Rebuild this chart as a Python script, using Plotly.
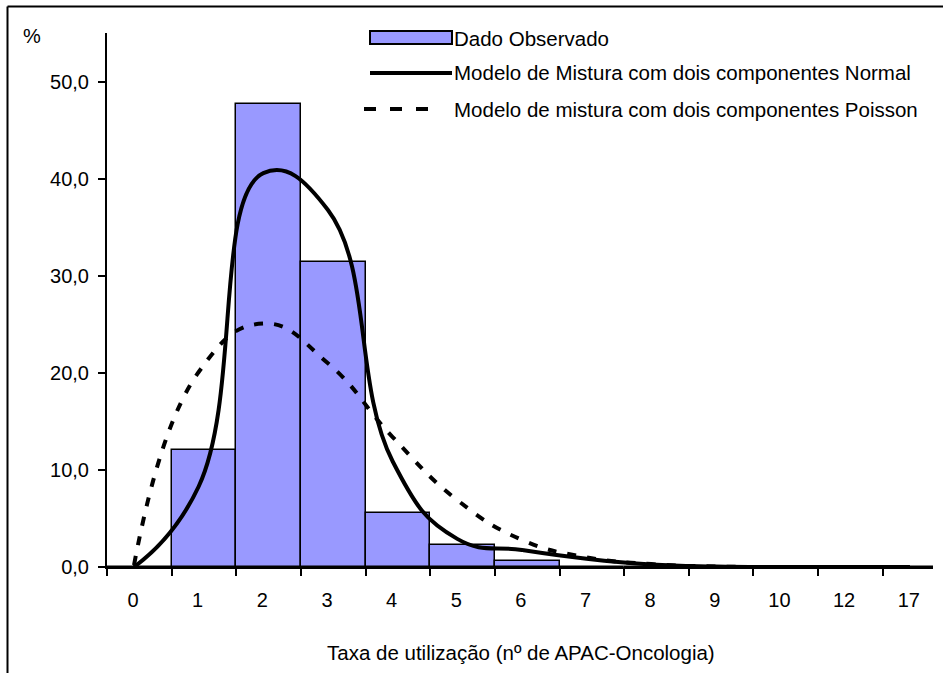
import plotly.graph_objects as go

# ---- data -------------------------------------------------------------
categories = ["0", "1", "2", "3", "4", "5", "6", "7", "8", "9", "10", "12", "17"]
observed = [0, 12.1, 47.7, 31.4, 5.6, 2.3, 0.6, 0, 0, 0, 0, 0, 0]
normal_mix = [0, 8.3, 40.6, 36.8, 10.9, 2.9, 1.76, 0.85, 0.25, 0.05, 0, 0, 0]
poisson_mix = [0.2, 20.1, 25.1, 21.0, 13.4, 6.9, 2.8, 1.0, 0.3, 0.05, 0, 0, 0]
y_ticks = [0, 10, 20, 30, 40, 50]

name_observed = "Dado Observado"
name_normal = "Modelo de Mistura com dois componentes Normal"
name_poisson = "Modelo de mistura com dois componentes Poisson"
x_title = "Taxa de utilização (nº de APAC-Oncologia)"
y_title = "%"

# ---- geometry ---------------------------------------------------------
W, H = 943, 673
L, R, T, B = 107, 933, 33, 567          # plot-area bounds in pixels
FAMILY = "Liberation Sans, Arial, sans-serif"
FONT = dict(family=FAMILY, size=20, color="black")
LEGEND_FONT = dict(family=FAMILY, size=20.5, color="black")
TITLE_FONT = dict(family=FAMILY, size=20.5, color="black")
BAR_FILL = "#9999FF"
DASH = "9px,11px"


def xp(px):
    return (px - L) / (R - L)


def yp(py):
    return (B - py) / (B - T)


pos = list(range(len(categories)))
edge = -0.418                            # bars sit between the tick marks
x_range = [edge, 12.359]

fig = go.Figure()
fig.add_bar(
    x=pos, y=observed, width=1, offset=edge, name=name_observed,
    marker=dict(color=BAR_FILL, line=dict(color="black", width=1.5)),
    showlegend=False,
)
fig.add_scatter(
    x=pos, y=normal_mix, mode="lines", name=name_normal, showlegend=False,
    line=dict(color="black", width=4, shape="spline", smoothing=1.3),
)
fig.add_scatter(
    x=pos, y=poisson_mix, mode="lines", name=name_poisson, showlegend=False,
    line=dict(color="black", width=4, dash=DASH, shape="spline", smoothing=1.3),
)

# ---- hand-built legend -----------------------------------------------
shapes = [
    # outer frame
    dict(type="line", xref="paper", yref="paper", x0=xp(7.5), x1=xp(960),
         y0=yp(6.5), y1=yp(6.5), line=dict(color="black", width=2)),
    dict(type="line", xref="paper", yref="paper", x0=xp(7.5), x1=xp(7.5),
         y0=yp(6.5), y1=yp(690), line=dict(color="black", width=2)),
    # legend keys
    dict(type="rect", xref="paper", yref="paper", x0=xp(370), x1=xp(452),
         y0=yp(44), y1=yp(31), fillcolor=BAR_FILL, line=dict(color="black", width=2)),
    dict(type="line", xref="paper", yref="paper", x0=xp(370), x1=xp(452),
         y0=yp(73), y1=yp(73), line=dict(color="black", width=4)),
    dict(type="line", xref="paper", yref="paper", x0=xp(364), x1=xp(428),
         y0=yp(109), y1=yp(109), line=dict(color="black", width=4, dash="12px,14px")),
]
annotations = [
    dict(text=name_observed, x=xp(452), y=yp(38)),
    dict(text=name_normal, x=xp(452), y=yp(73)),
    dict(text=name_poisson, x=xp(452), y=yp(109)),
]
annotations = [dict(a, xref="paper", yref="paper", xanchor="left", yanchor="middle",
                    showarrow=False, font=LEGEND_FONT) for a in annotations]
annotations += [
    dict(text=y_title, x=xp(32), y=yp(36), xref="paper", yref="paper",
         xanchor="center", yanchor="middle", showarrow=False, font=FONT),
    dict(text=x_title, x=xp(521), y=yp(652), xref="paper", yref="paper",
         xanchor="center", yanchor="middle", showarrow=False, font=TITLE_FONT),
]

fig.update_layout(
    width=W, height=H,
    margin=dict(l=L, r=W - R, t=T, b=H - B, pad=0),
    paper_bgcolor="white", plot_bgcolor="white",
    font=FONT, separators=",.",
    showlegend=False, bargap=0,
    shapes=shapes, annotations=annotations,
)
fig.update_xaxes(
    range=x_range, tickmode="array",
    tickvals=[p + edge for p in pos], ticktext=categories,
    ticklabelshift=26, ticklabelstandoff=7,
    ticks="outside", ticklen=7, tickwidth=2, tickcolor="black",
    showline=True, linewidth=2, linecolor="black",
    showgrid=False, zeroline=False,
)
fig.update_yaxes(
    range=[0, 55.05], tickmode="array", tickvals=y_ticks, tickformat=".1f",
    ticklabelstandoff=5,
    ticks="outside", ticklen=7, tickwidth=2, tickcolor="black",
    showline=True, linewidth=2, linecolor="black",
    showgrid=False, zeroline=False,
)

fig.write_html("out.html")
